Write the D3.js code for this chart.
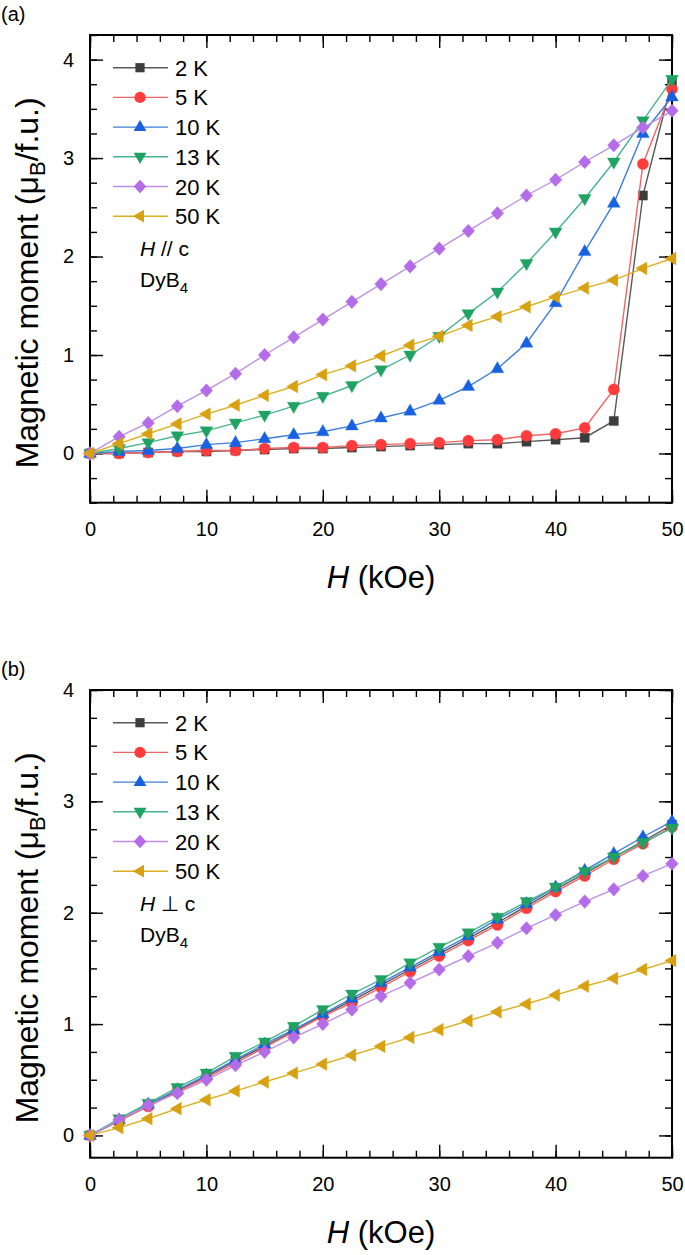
<!DOCTYPE html>
<html>
<head>
<meta charset="utf-8">
<script src="https://cdn.jsdelivr.net/npm/d3@7"></script>
<style>
  html, body { margin: 0; padding: 0; background: #fff; }
  svg { display: block; font-family: "Liberation Sans", Arial, sans-serif; }
</style>
</head>
<body>
<svg id="chart" width="685" height="1255"></svg>
<script>
// ---------------- DATA ----------------
const fieldH = [0, 2.5, 5, 7.5, 10, 12.5, 15, 17.5, 20, 22.5, 25, 27.5, 30, 32.5, 35, 37.5, 40, 42.5, 45, 47.5, 50];
const tempLabels = ["2 K", "5 K", "10 K", "13 K", "20 K", "50 K"];

// Panel (a): H // c
const a2K  = [0, 0.00, 0.01, 0.02, 0.02, 0.03, 0.04, 0.05, 0.05, 0.06, 0.07, 0.08, 0.09, 0.10, 0.10, 0.12, 0.14, 0.16, 0.33, 2.62, 3.78];
const a5K  = [0, 0.00, 0.01, 0.02, 0.03, 0.03, 0.05, 0.06, 0.06, 0.08, 0.09, 0.10, 0.11, 0.13, 0.14, 0.18, 0.20, 0.26, 0.65, 2.94, 3.70];
const a10K = [0, 0.02, 0.03, 0.05, 0.09, 0.11, 0.15, 0.19, 0.22, 0.28, 0.36, 0.43, 0.54, 0.68, 0.86, 1.12, 1.53, 2.05, 2.54, 3.25, 3.62];
const a13K = [0, 0.05, 0.11, 0.18, 0.23, 0.31, 0.39, 0.48, 0.58, 0.69, 0.85, 1.00, 1.19, 1.42, 1.64, 1.93, 2.25, 2.59, 2.96, 3.38, 3.80];
const a20K = [0, 0.17, 0.31, 0.48, 0.64, 0.81, 1.00, 1.18, 1.36, 1.54, 1.72, 1.90, 2.08, 2.26, 2.44, 2.62, 2.78, 2.96, 3.13, 3.31, 3.48];
const a50K = [0, 0.10, 0.20, 0.30, 0.40, 0.49, 0.59, 0.68, 0.80, 0.89, 0.99, 1.10, 1.19, 1.30, 1.39, 1.49, 1.59, 1.68, 1.76, 1.88, 1.98];

// Panel (b): H ⊥ c
const b2K  = [0, 0.13, 0.27, 0.40, 0.53, 0.67, 0.80, 0.94, 1.08, 1.21, 1.35, 1.49, 1.63, 1.77, 1.91, 2.06, 2.21, 2.35, 2.50, 2.64, 2.79];
const b5K  = [0, 0.13, 0.26, 0.39, 0.52, 0.65, 0.79, 0.93, 1.07, 1.19, 1.33, 1.47, 1.61, 1.75, 1.89, 2.04, 2.19, 2.33, 2.48, 2.62, 2.77];
const b10K = [0, 0.14, 0.28, 0.41, 0.54, 0.68, 0.82, 0.95, 1.09, 1.23, 1.37, 1.51, 1.65, 1.79, 1.94, 2.08, 2.23, 2.38, 2.53, 2.68, 2.82];
const b13K = [0, 0.15, 0.29, 0.43, 0.56, 0.71, 0.84, 0.98, 1.13, 1.27, 1.40, 1.55, 1.69, 1.82, 1.96, 2.10, 2.23, 2.37, 2.50, 2.63, 2.76];
const b20K = [0, 0.14, 0.27, 0.38, 0.50, 0.63, 0.75, 0.88, 1.00, 1.13, 1.25, 1.37, 1.49, 1.61, 1.73, 1.86, 1.98, 2.10, 2.21, 2.33, 2.44];
const b50K = [0, 0.07, 0.15, 0.24, 0.32, 0.40, 0.48, 0.56, 0.64, 0.72, 0.80, 0.88, 0.95, 1.03, 1.11, 1.18, 1.26, 1.34, 1.41, 1.49, 1.57];

const xTicks = [0, 10, 20, 30, 40, 50];
const yTicks = [0, 1, 2, 3, 4];

// ---------------- STYLE ----------------
const markerColors = ["#3d3d3d", "#ff3b3b", "#1862e2", "#1fa262", "#b56ce8", "#d7a112"];
const lineColors   = ["#5a5a5a", "#f26464", "#3f7fd8", "#48b58c", "#bf8fe6", "#dcb020"];
const shapes = ["square", "circle", "triUp", "triDown", "diamond", "triLeft"];

function markerPath(shape) {
  switch (shape) {
    case "square":  return "M-4.6,-4.6H4.6V4.6H-4.6Z";
    case "circle":  return d3.arc()({innerRadius: 0, outerRadius: 5.6, startAngle: 0, endAngle: 2 * Math.PI});
    case "triUp":   return "M0,-7.2L6.4,4L-6.4,4Z";
    case "triDown": return "M0,7.2L6.4,-4L-6.4,-4Z";
    case "diamond": return "M0,-6.8L6.3,0L0,6.8L-6.3,0Z";
    case "triLeft": return "M-7.2,0L4,-6.4L4,6.4Z";
  }
}

const svg = d3.select("#chart");
const left = 90, right = 672, frameH = 467.7;

const panels = [
  {tag: "(a)", top: 35, yDomain: [-0.5, 4.25], series: [a2K, a5K, a10K, a13K, a20K, a50K], orient: "//"},
  {tag: "(b)", top: 690, yDomain: [-0.2, 4.0], series: [b2K, b5K, b10K, b13K, b20K, b50K], orient: "\u22A5"}
];

const x = d3.scaleLinear().domain([0, 50]).range([left, right]);
const xMinor = d3.range(0, 50.001, 2);

panels.forEach(p => {
  const top = p.top, bottom = top + frameH;
  const y = d3.scaleLinear().domain(p.yDomain).range([bottom, top]);
  const yMinor = d3.range(Math.ceil(p.yDomain[0] * 4) / 4, p.yDomain[1] + 0.001, 0.25);
  const g = svg.append("g");

  // minor ticks (inward, all four sides)
  const tickStyle = sel => { sel.select(".domain").remove(); sel.selectAll("line").attr("stroke", "#000").attr("stroke-width", 1.4); };
  g.append("g").attr("transform", `translate(0,${bottom})`)
    .call(d3.axisBottom(x).tickValues(xMinor).tickSize(-7).tickFormat("")).call(tickStyle);
  g.append("g").attr("transform", `translate(0,${top})`)
    .call(d3.axisTop(x).tickValues(xMinor).tickSize(-7).tickFormat("")).call(tickStyle);
  g.append("g").attr("transform", `translate(${left},0)`)
    .call(d3.axisLeft(y).tickValues(yMinor).tickSize(-7).tickFormat("")).call(tickStyle);
  g.append("g").attr("transform", `translate(${right},0)`)
    .call(d3.axisRight(y).tickValues(yMinor).tickSize(-7).tickFormat("")).call(tickStyle);

  // major ticks with labels
  const labStyle = sel => { tickStyle(sel); sel.selectAll("text").attr("fill", "#000").attr("font-size", 20).attr("font-family", "Liberation Sans, Arial, sans-serif"); };
  g.append("g").attr("transform", `translate(0,${bottom})`)
    .call(d3.axisBottom(x).tickValues(xTicks).tickSize(-13).tickPadding(19).tickFormat(d3.format("d"))).call(labStyle);
  g.append("g").attr("transform", `translate(0,${top})`)
    .call(d3.axisTop(x).tickValues(xTicks).tickSize(-13).tickFormat("")).call(tickStyle);
  g.append("g").attr("transform", `translate(${left},0)`)
    .call(d3.axisLeft(y).tickValues(yTicks).tickSize(-13).tickPadding(16).tickFormat(d3.format("d"))).call(labStyle);
  g.append("g").attr("transform", `translate(${right},0)`)
    .call(d3.axisRight(y).tickValues(yTicks).tickSize(-13).tickFormat("")).call(tickStyle);

  // frame
  g.append("rect").attr("x", left).attr("y", top).attr("width", right - left).attr("height", frameH)
    .attr("fill", "none").attr("stroke", "#000").attr("stroke-width", 2);

  // series
  const line = d3.line().x((d, i) => x(fieldH[i])).y(d => y(d));
  p.series.forEach((vals, k) => {
    g.append("path").datum(vals).attr("d", line).attr("fill", "none")
      .attr("stroke", lineColors[k]).attr("stroke-width", 1.4);
    g.append("g").selectAll("path").data(vals).join("path")
      .attr("transform", (d, i) => `translate(${x(fieldH[i])},${y(d)})`)
      .attr("d", markerPath(shapes[k])).attr("fill", markerColors[k])
      .attr("stroke", markerColors[k]).attr("stroke-width", 0.6).attr("stroke-opacity", 0.6);
  });

  // legend
  const lg = g.append("g");
  tempLabels.forEach((t, k) => {
    const ly = top + 32.7 + k * 29.7;
    lg.append("line").attr("x1", 113).attr("x2", 168).attr("y1", ly).attr("y2", ly)
      .attr("stroke", lineColors[k]).attr("stroke-width", 1.4);
    lg.append("path").attr("transform", `translate(140,${ly})`).attr("d", markerPath(shapes[k]))
      .attr("fill", markerColors[k]);
    lg.append("text").attr("x", 175).attr("y", ly + 8).attr("font-size", 22).attr("fill", "#000").text(t);
  });

  // annotation
  const ann = g.append("text").attr("x", 140).attr("y", top + 221).attr("font-size", 21).attr("fill", "#000");
  ann.append("tspan").attr("font-style", "italic").text("H");
  ann.append("tspan").text(" " + p.orient + " c");
  const dy = g.append("text").attr("x", 140).attr("y", top + 252).attr("font-size", 21).attr("fill", "#000");
  dy.append("tspan").text("DyB");
  dy.append("tspan").attr("font-size", 15).attr("dy", 6).text("4");

  // panel tag
  g.append("text").attr("x", 1).attr("y", top - 14).attr("font-size", 20).attr("fill", "#000").text(p.tag);

  // axis titles
  const xt = g.append("text").attr("x", (left + right) / 2).attr("y", bottom + 85)
    .attr("text-anchor", "middle").attr("font-size", 31).attr("fill", "#000");
  xt.append("tspan").attr("font-style", "italic").text("H");
  xt.append("tspan").text(" (kOe)");

  const yt = g.append("text").attr("transform", `translate(38,${(top + bottom) / 2 + 14}) rotate(-90)`)
    .attr("text-anchor", "middle").attr("font-size", 32).attr("fill", "#000");
  yt.append("tspan").text("Magnetic moment (\u03BC");
  yt.append("tspan").attr("font-size", 22).attr("dy", 7).text("B");
  yt.append("tspan").attr("dy", -7).text("/f.u.)");
});
</script>
</body>
</html>
